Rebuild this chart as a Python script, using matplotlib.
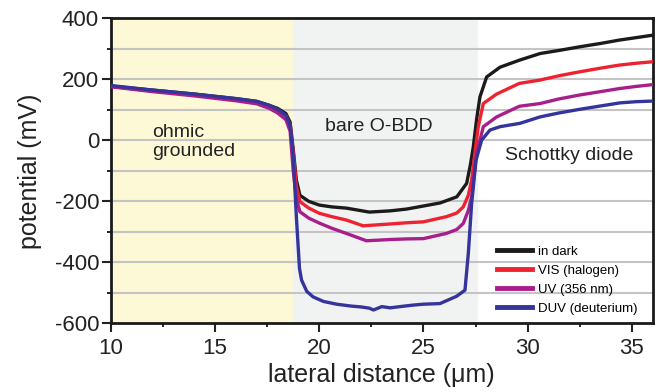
import numpy as np
import matplotlib.pyplot as plt

plt.rcParams['font.family'] = ['Liberation Sans', 'DejaVu Sans']
plt.rcParams['axes.unicode_minus'] = False

# lateral distance (um) and potential (mV)
x_dark = [10, 12, 14, 16, 17, 17.6, 18.0, 18.4, 18.6, 18.75, 18.9, 19.07, 19.5, 20.0, 20.6, 21.3, 22.4, 23.4, 24.2,
          25.0, 25.8, 26.6, 27.07, 27.25, 27.39, 27.55, 27.71, 28.03, 28.67, 29.6, 30.6, 31.5, 32.5, 33.5, 34.4, 35.2, 36]
y_dark = [178, 165, 152, 137, 128, 115, 105, 88, 60, -30, -130, -180, -200, -212, -218, -222, -235, -231, -225,
          -215, -205, -185, -141, -80, -21, 70, 143, 208, 240, 263, 285, 295, 307, 318, 329, 337, 345]

x_vis = [10, 12, 14, 16, 17, 17.6, 18.0, 18.4, 18.6, 18.75, 18.9, 19.07, 19.5, 20.0, 20.6, 21.3, 22.1, 23.4, 24.2,
         25.0, 26.1, 26.6, 26.91, 27.15, 27.31, 27.47, 27.63, 27.87, 28.51, 29.6, 30.6, 31.5, 32.5, 33.5, 34.4, 35.2, 36]
y_vis = [177, 162, 150, 135, 125, 112, 100, 82, 50, -40, -150, -201, -222, -239, -250, -261, -280, -274, -270,
         -267, -250, -238, -218, -180, -130, -40, 45, 121, 152, 187, 198, 212, 225, 237, 247, 253, 258]

x_uv = [10, 12, 14, 16, 17, 17.6, 18.0, 18.4, 18.6, 18.75, 18.9, 19.07, 19.5, 20.0, 20.6, 21.3, 22.26, 23.4, 24.2,
        25.0, 26.1, 26.6, 26.91, 27.15, 27.31, 27.45, 27.55, 27.87, 28.51, 29.6, 30.6, 31.5, 32.5, 33.5, 34.4, 35.2, 36]
y_uv = [176, 160, 146, 130, 120, 105, 90, 68, 30, -100, -190, -234, -255, -271, -288, -305, -329, -325, -323,
        -322, -305, -292, -272, -230, -185, -100, -43, 45, 77, 112, 121, 136, 149, 160, 170, 177, 183]

x_duv = [10, 12, 14, 16, 17, 17.6, 18.0, 18.4, 18.6, 18.75, 18.9, 19.05, 19.15, 19.4, 19.7, 20.2, 20.83, 21.5, 22.0,
         22.4, 22.6, 23.0, 23.4, 23.87, 24.5, 25.0, 25.79, 26.59, 26.99, 27.15, 27.31, 27.52, 27.79, 28.19, 28.67,
         29.63, 30.59, 31.5, 32.5, 33.5, 34.42, 35.2, 36]
y_duv = [180, 165, 152, 137, 128, 115, 102, 82, 50, -50, -250, -420, -458, -495, -513, -528, -537, -543, -546,
         -550, -556, -545, -549, -545, -540, -537, -535, -511, -491, -371, -207, -65, 1, 34, 45, 56, 77, 90, 102, 113,
         123, 127, 129]

labels = ['in dark', 'VIS (halogen)', 'UV (356 nm)', 'DUV (deuterium)']
colors = ['#1c1a1a', '#ee2331', '#a81f8c', '#35349b']

fig = plt.figure(figsize=(6.6, 3.92), dpi=100)
ax = fig.add_axes([0.168, 0.175, 0.821, 0.778])

ax.axvspan(10, 18.73, color='#fdf9d6', zorder=0, lw=0)
ax.axvspan(18.73, 27.6, color='#f1f3f2', zorder=0, lw=0)
for yv in range(-500, 400, 100):
    ax.axhline(yv, color='#c4c4c4', lw=1.5, zorder=1)

series = [(x_dark, y_dark), (x_vis, y_vis), (x_uv, y_uv), (x_duv, y_duv)]
for (xs, ys), lab, c in zip(series, labels, colors):
    ax.plot(xs, ys, color=c, lw=2.4, label=lab, zorder=3)

ax.text(12.0, -4, 'ohmic\ngrounded', fontsize=14, color='#222222', va='center', linespacing=1.15)
ax.text(20.27, 44, 'bare O-BDD', fontsize=14, color='#222222', va='center')
ax.text(28.9, -50, 'Schottky diode', fontsize=14, color='#222222', va='center')

ax.set_xlim(10, 36)
ax.set_ylim(-600, 400)
ax.set_xticks([10, 15, 20, 25, 30, 35])
ax.set_xticks(np.arange(12.5, 36, 5), minor=True)
ax.set_yticks(range(-600, 401, 200))
ax.set_yticks(range(-500, 400, 200), minor=True)
ax.tick_params(which='major', direction='out', length=6.5, width=1.5, labelsize=16, colors='#222222', pad=2)
ax.tick_params(which='minor', direction='out', length=3, width=1.2)
ax.tick_params(axis='x', which='major', pad=4)
for s in ax.spines.values():
    s.set_linewidth(2)
    s.set_color('#1a1a1a')

ax.set_xlabel('lateral distance (μm)', fontsize=18, color='#222222', labelpad=3)
ax.set_ylabel('potential (mV)', fontsize=18, color='#222222', labelpad=9)

leg = ax.legend(loc='lower left', frameon=False, fontsize=9.5, handlelength=2.7, handletextpad=0.45,
                labelspacing=0.5, bbox_to_anchor=(0.69, -0.01))
for h in leg.get_lines():
    h.set_linewidth(3.5)

fig.savefig('out.png', dpi=100)
